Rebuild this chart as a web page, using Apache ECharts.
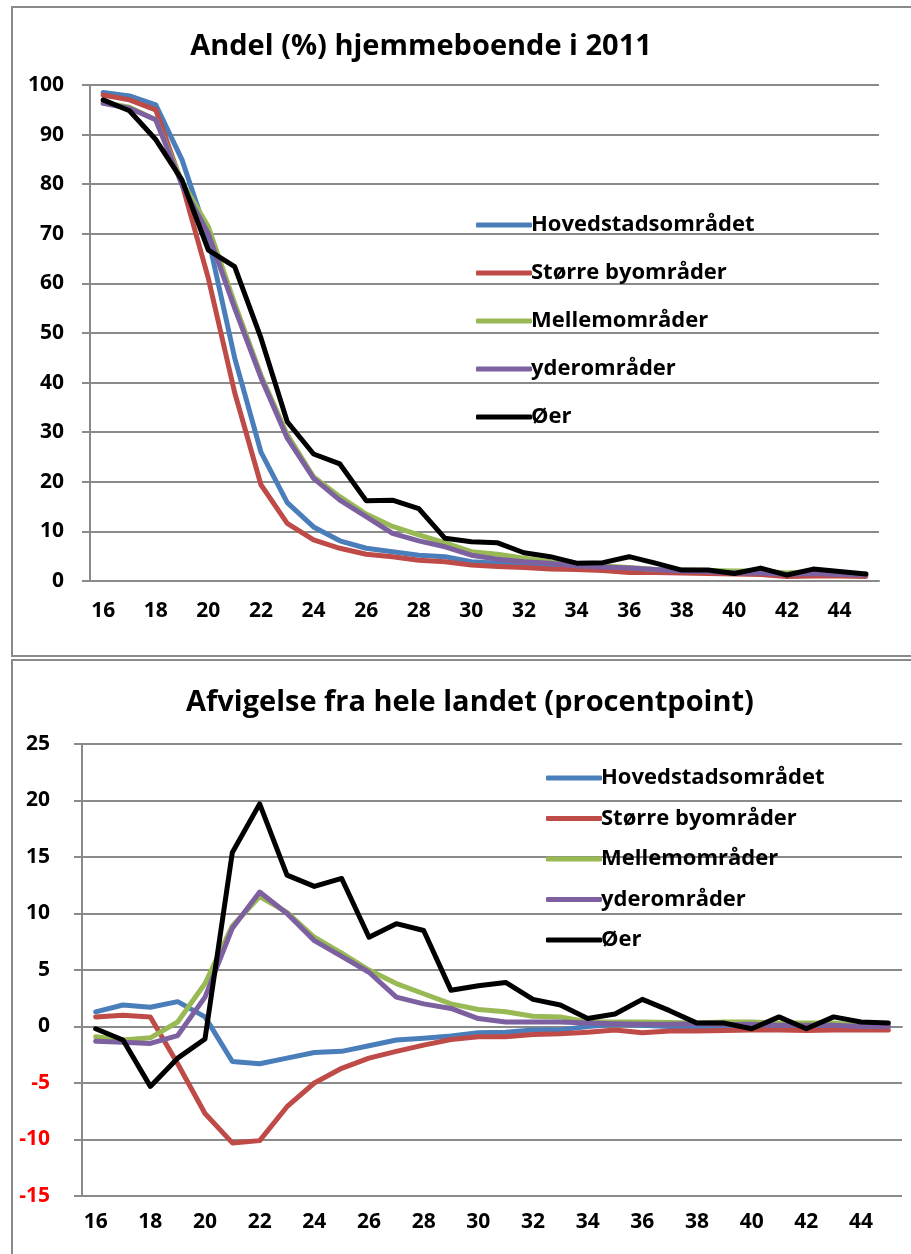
<!DOCTYPE html>
<html>
<head>
<meta charset="utf-8">
<script src="https://cdn.jsdelivr.net/npm/echarts@6/dist/echarts.min.js"></script>
<style>
  html, body { margin: 0; padding: 0; background: #fff; }
  #chart { width: 911px; height: 1254px; }
</style>
</head>
<body>
<div id="chart"></div>
<script>
// alder 16-45
const ages = ['16','17','18','19','20','21','22','23','24','25','26','27','28','29','30',
              '31','32','33','34','35','36','37','38','39','40','41','42','43','44','45']

const seriesNames = ['Hovedstadsområdet', 'Større byområder', 'Mellemområder', 'yderområder', 'Øer']
const colors = ['#4a7ebb', '#be4b48', '#98b954', '#7d60a0', '#000000']

// Andel (%) hjemmeboende i 2011
const hoved   = [98.5, 97.8, 96.0, 84.9, 69.0, 45.0, 26.0, 15.8, 10.9, 8.1, 6.6, 5.9, 5.2, 4.9, 3.9, 3.6, 3.3, 3.0, 2.7, 2.5, 2.2, 2.0, 1.9, 1.7, 1.6, 1.5, 1.3, 1.3, 1.2, 1.1]
const stoerre = [98.0, 97.0, 95.0, 80.0, 61.0, 38.0, 19.4, 11.6, 8.3, 6.6, 5.4, 4.9, 4.2, 3.9, 3.2, 2.9, 2.7, 2.4, 2.3, 2.1, 1.7, 1.7, 1.6, 1.5, 1.4, 1.3, 0.9, 1.0, 1.0, 0.9]
const melle   = [96.5, 95.5, 93.0, 80.5, 71.4, 56.0, 41.5, 29.5, 21.0, 17.0, 13.5, 11.0, 9.3, 7.7, 5.9, 5.4, 4.6, 3.9, 3.2, 3.0, 2.7, 2.3, 2.2, 2.1, 2.0, 2.0, 1.6, 1.9, 1.5, 1.4]
const yder    = [96.3, 95.3, 93.0, 79.8, 70.0, 55.0, 41.0, 28.8, 20.7, 16.3, 13.0, 9.6, 8.1, 6.9, 5.2, 4.4, 3.9, 3.6, 3.0, 2.8, 2.6, 2.3, 2.0, 1.9, 1.6, 1.6, 1.3, 1.5, 1.3, 1.2]
const oer     = [97.0, 94.8, 89.0, 80.8, 66.7, 63.4, 49.0, 32.1, 25.6, 23.6, 16.2, 16.3, 14.6, 8.6, 7.9, 7.7, 5.7, 4.9, 3.6, 3.7, 4.9, 3.6, 2.2, 2.2, 1.5, 2.6, 1.2, 2.4, 1.9, 1.4]

// Afvigelse fra hele landet (procentpoint)
const hovedDiff   = [1.3, 1.9, 1.7, 2.2, 0.85, -3.1, -3.3, -2.8, -2.3, -2.2, -1.7, -1.2, -1.05, -0.85, -0.55, -0.5, -0.3, -0.3, 0.0, 0.2, 0.1, 0.0, -0.1, -0.1, 0.0, -0.1, -0.2, -0.2, -0.1, 0.0]
const stoerreDiff = [0.85, 1.0, 0.85, -3.3, -7.7, -10.3, -10.1, -7.1, -5.0, -3.7, -2.8, -2.2, -1.65, -1.15, -0.9, -0.9, -0.7, -0.65, -0.5, -0.3, -0.55, -0.4, -0.4, -0.35, -0.3, -0.3, -0.35, -0.3, -0.3, -0.3]
const melleDiff   = [-0.9, -1.2, -1.0, 0.4, 3.8, 8.9, 11.5, 10.1, 7.9, 6.5, 5.0, 3.8, 2.9, 2.0, 1.5, 1.3, 0.9, 0.85, 0.4, 0.4, 0.4, 0.35, 0.3, 0.4, 0.4, 0.3, 0.3, 0.3, 0.1, 0.0]
const yderDiff    = [-1.3, -1.4, -1.5, -0.8, 2.6, 8.7, 11.9, 10.0, 7.6, 6.2, 4.8, 2.6, 2.0, 1.6, 0.7, 0.4, 0.4, 0.4, 0.3, 0.25, 0.2, 0.2, 0.25, 0.15, 0.2, 0.1, 0.1, 0.1, 0.0, 0.0]
const oerDiff     = [-0.2, -1.2, -5.3, -2.8, -1.1, 15.4, 19.7, 13.4, 12.4, 13.1, 7.9, 9.1, 8.5, 3.2, 3.6, 3.9, 2.4, 1.9, 0.7, 1.1, 2.4, 1.4, 0.3, 0.3, -0.2, 0.85, -0.2, 0.85, 0.4, 0.3]

const topData = [hoved, stoerre, melle, yder, oer]
const bottomData = [hovedDiff, stoerreDiff, melleDiff, yderDiff, oerDiff]

const FONT = '"Open Sans"'
const GRAY = '#8a8a8a'

const axisLabelStyle = { fontFamily: FONT, fontWeight: 'bold', fontSize: 21, color: '#000' }

const makeLine = (name, data, i, axisIdx) => ({
    name: name,
    type: 'line',
    data: data,
    xAxisIndex: axisIdx,
    yAxisIndex: axisIdx === 0 ? 0 : 1,
    symbol: 'none',
    lineStyle: { width: 5, color: colors[i], cap: 'round', join: 'round' },
    itemStyle: { color: colors[i] },
    emphasis: { disabled: true },
    animation: false
})

const legendBase = {
    orient: 'vertical',
    icon: 'roundRect',
    itemWidth: 56,
    itemHeight: 5,
    itemStyle: { borderWidth: 0 },
    textStyle: { fontFamily: FONT, fontWeight: 'bold', fontSize: 22, color: '#000', lineHeight: 24, padding: [0, 0, 0, -6] },
    selectedMode: false
}

const option = {
    backgroundColor: '#fff',
    color: colors,
    animation: false,
    graphic: [
        { type: 'rect', silent: true, shape: { x: 12, y: 7, width: 1000, height: 649 },
          style: { fill: 'none', stroke: GRAY, lineWidth: 2 } },
        { type: 'rect', silent: true, shape: { x: 12, y: 660, width: 1000, height: 700 },
          style: { fill: 'none', stroke: GRAY, lineWidth: 2 } }
    ],
    title: [
        { text: 'Andel (%) hjemmeboende i 2011', left: 416, top: 27, textAlign: 'center',
          textStyle: { fontFamily: FONT, fontWeight: 'bold', fontSize: 29, color: '#000' } },
        { text: 'Afvigelse fra hele landet (procentpoint)', left: 465, top: 683, textAlign: 'center',
          textStyle: { fontFamily: FONT, fontWeight: 'bold', fontSize: 29, color: '#000' } }
    ],
    legend: [
        Object.assign({}, legendBase, { data: seriesNames, left: 471, top: 208, itemGap: 24 }),
        Object.assign({}, legendBase, { data: seriesNames.map(n => n), left: 541, top: 761, itemGap: 16.5 })
    ],
    grid: [
        { left: 90, top: 85, width: 789, height: 496 },
        { left: 82, top: 744, width: 820, height: 452 }
    ],
    xAxis: [
        { type: 'category', gridIndex: 0, data: ages, boundaryGap: true,
          axisLine: { lineStyle: { color: GRAY, width: 2 } },
          axisTick: { interval: 0, length: 8, lineStyle: { color: GRAY, width: 2 } },
          axisLabel: Object.assign({ interval: 1, margin: 20 }, axisLabelStyle),
          splitLine: { show: false } },
        { type: 'category', gridIndex: 1, data: ages, boundaryGap: true,
          axisLine: { onZero: true, lineStyle: { color: GRAY, width: 2 } },
          axisTick: { interval: 0, length: 8, lineStyle: { color: GRAY, width: 2 } },
          axisLabel: { show: false },
          splitLine: { show: false } },
        { type: 'category', gridIndex: 1, data: ages, boundaryGap: true, position: 'bottom',
          axisLine: { show: false, onZero: false },
          axisTick: { show: false },
          axisLabel: Object.assign({ interval: 1, margin: 16 }, axisLabelStyle),
          splitLine: { show: false } }
    ],
    yAxis: [
        { type: 'value', gridIndex: 0, min: 0, max: 100, interval: 10,
          axisLine: { show: true, lineStyle: { color: GRAY, width: 2 } },
          axisTick: { show: true, length: 8, lineStyle: { color: GRAY, width: 2 } },
          axisLabel: Object.assign({ margin: 26 }, axisLabelStyle),
          splitLine: { lineStyle: { color: GRAY, width: 2 } } },
        { type: 'value', gridIndex: 1, min: -15, max: 25, interval: 5,
          axisLine: { show: true, onZero: false, lineStyle: { color: GRAY, width: 2 } },
          axisTick: { show: true, length: 8, lineStyle: { color: GRAY, width: 2 } },
          axisLabel: Object.assign({}, axisLabelStyle, { margin: 32, color: (v) => Number(v) < 0 ? '#ff0000' : '#000' }),
          splitLine: { lineStyle: { color: GRAY, width: 2 } } }
    ],
    series: [
        ...topData.map((d, i) => makeLine(seriesNames[i], d, i, 0)),
        ...bottomData.map((d, i) => makeLine(seriesNames[i], d, i, 1))
    ]
}

const myChart = echarts.init(document.getElementById('chart'), null, { renderer: 'canvas' })
myChart.setOption(option)
</script>
</body>
</html>
